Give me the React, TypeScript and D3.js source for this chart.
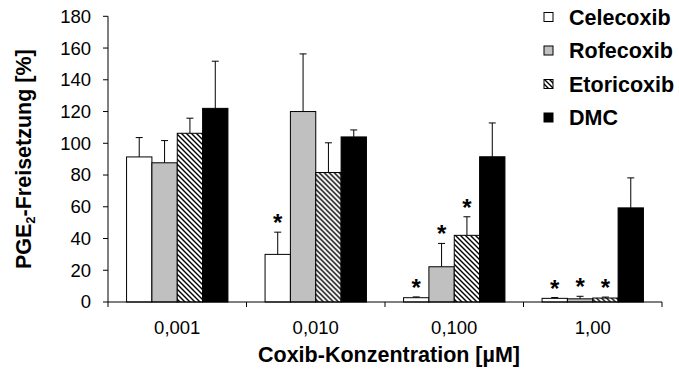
import React from "react";
import * as d3 from "d3";

const categories = ["0,001", "0,010", "0,100", "1,00"];
const seriesNames = ["Celecoxib", "Rofecoxib", "Etoricoxib", "DMC"];
const celecoxib = [91.4, 30.0, 2.7, 2.3];
const celecoxibErr = [12.2, 14.0, 0.5, 0.5];
const rofecoxib = [87.7, 120.0, 22.2, 2.0];
const rofecoxibErr = [14.0, 36.3, 14.7, 1.6];
const etoricoxib = [106.3, 81.6, 42.0, 2.5];
const etoricoxibErr = [9.5, 18.7, 11.7, 0.6];
const dmc = [122.0, 104.0, 91.5, 59.3];
const dmcErr = [29.7, 4.4, 21.3, 18.9];
// significance markers (true = "*")
const celecoxibSig = [false, true, true, true];
const rofecoxibSig = [false, false, true, true];
const etoricoxibSig = [false, false, true, true];
const dmcSig = [false, false, false, false];
const yTicks = [0, 20, 40, 60, 80, 100, 120, 140, 160, 180];

const values = [celecoxib, rofecoxib, etoricoxib, dmc];
const errors = [celecoxibErr, rofecoxibErr, etoricoxibErr, dmcErr];
const sigs = [celecoxibSig, rofecoxibSig, etoricoxibSig, dmcSig];
const fills = ["#ffffff", "#c0c0c0", "url(#hatch)", "#000000"];

const FONT = "'Liberation Sans', Arial, Helvetica, sans-serif";

export default function App() {
  const W = 679, H = 371;
  const left = 108, right = 662, top = 16.3, bottom = 302;
  const y = d3.scaleLinear().domain([0, 180]).range([bottom, top]);
  const x0 = d3.scaleBand<string>().domain(categories).range([left, right]).paddingInner(0).paddingOuter(0);
  const bw = x0.bandwidth();
  const pad = bw * 0.134;
  const x1 = d3.scaleBand<string>().domain(seriesNames).range([pad, bw - pad]).paddingInner(0).paddingOuter(0);
  const bbw = x1.bandwidth();

  const boundaries = categories.map((c) => x0(c)!).concat([right]);

  return (
    <svg width={W} height={H} style={{ position: "absolute", left: 0, top: 0, background: "#fff" }} fontFamily={FONT}>
      <defs>
        <pattern id="hatch" patternUnits="userSpaceOnUse" width={5} height={5}>
          <rect width={5} height={5} fill="#fff" />
          <path d="M0,0 L5,5 M-1,4 L1,6 M4,-1 L6,1" stroke="#000" strokeWidth={1.4} />
        </pattern>
      </defs>
      <rect width={W} height={H} fill="#fff" />

      {/* bars */}
      {categories.map((c, ci) => (
        <g key={c} transform={`translate(${x0(c)},0)`}>
          {seriesNames.map((s, si) => {
            const v = values[si][ci];
            const e = errors[si][ci];
            const bx = x1(s)!;
            const cx = bx + bbw / 2;
            const yTop = y(v);
            const yErr = y(v + e);
            return (
              <g key={s}>
                <line x1={cx} x2={cx} y1={yTop} y2={yErr} stroke="#000" strokeWidth={1} />
                <line x1={cx - 3.5} x2={cx + 3.5} y1={yErr} y2={yErr} stroke="#000" strokeWidth={1} />
                <rect x={bx} y={yTop} width={bbw} height={bottom - yTop} fill={fills[si]} stroke="#000" strokeWidth={1} />
                {sigs[si][ci] && (
                  <text x={cx} y={yErr - 1} textAnchor="middle" fontSize={24} fontWeight="bold">*</text>
                )}
              </g>
            );
          })}
        </g>
      ))}

      {/* y axis */}
      <line x1={left} x2={left} y1={top} y2={bottom} stroke="#000" strokeWidth={1} />
      {yTicks.map((t) => (
        <g key={t}>
          <line x1={left - 5} x2={left} y1={y(t)} y2={y(t)} stroke="#000" strokeWidth={1} />
          <text x={left - 17} y={y(t)} dy="0.35em" textAnchor="end" fontSize={18.5}>{t}</text>
        </g>
      ))}

      {/* x axis */}
      <line x1={left} x2={right} y1={bottom} y2={bottom} stroke="#000" strokeWidth={1} />
      {boundaries.map((b, i) => (
        <line key={i} x1={b} x2={b} y1={bottom} y2={bottom + 5} stroke="#000" strokeWidth={1} />
      ))}
      {categories.map((c) => (
        <text key={c} x={x0(c)! + bw / 2} y={334} textAnchor="middle" fontSize={18.5}>{c}</text>
      ))}

      {/* axis titles */}
      <text x={389} y={362} textAnchor="middle" fontSize={21.5} fontWeight="bold">Coxib-Konzentration [µM]</text>
      <text transform={`translate(31,${(top + bottom) / 2}) rotate(-90)`} textAnchor="middle" fontSize={21.5} fontWeight="bold">
        PGE<tspan fontSize={13} dy={4}>2</tspan><tspan dy={-4}>-Freisetzung [%]</tspan>
      </text>

      {/* legend */}
      {seriesNames.map((s, si) => {
        const cy = 17 + si * 33.5;
        return (
          <g key={s}>
            <rect x={544} y={cy - 4.5} width={9} height={9} fill={fills[si]} stroke="#000" strokeWidth={1} />
            <text x={569} y={cy} dy="0.36em" fontSize={21.5} fontWeight="bold">{s}</text>
          </g>
        );
      })}
    </svg>
  );
}
